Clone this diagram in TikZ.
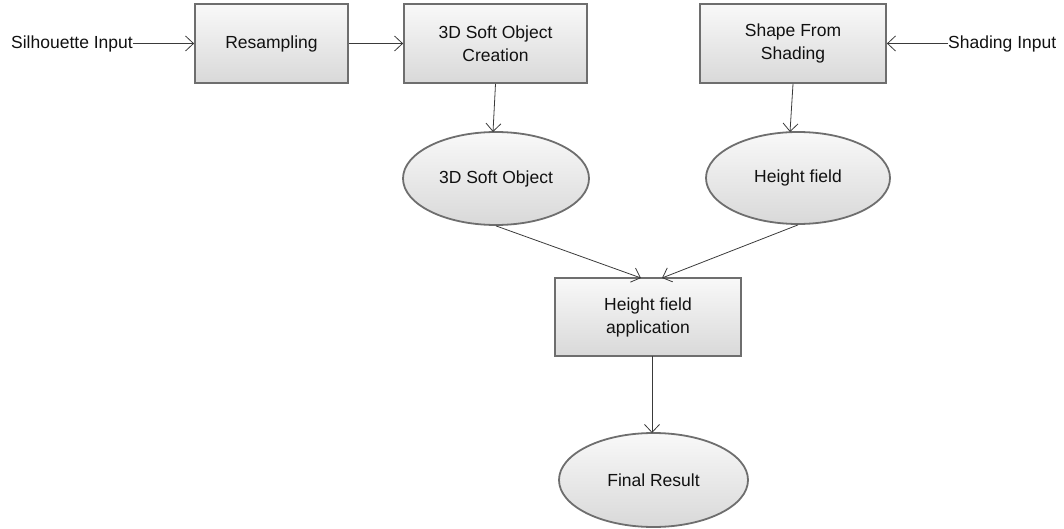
\documentclass[tikz,border=0pt]{standalone}
\usepackage{fontspec}
\setmainfont{Liberation Sans}
\usetikzlibrary{shapes.geometric,arrows.meta}
\definecolor{bordergray}{HTML}{6E6E6E}
\definecolor{linegray}{HTML}{3A3A3A}
\definecolor{txt}{HTML}{111111}
\begin{document}
\begin{tikzpicture}[x=1pt,y=-1pt,
  every node/.style={font=\fontsize{17.5}{23}\selectfont, text=txt},
  procbox/.style={rectangle, draw=bordergray, line width=1.8pt, top color=gray!5, bottom color=gray!30, align=center, inner sep=0pt},
  databox/.style={ellipse, draw=bordergray, line width=1.8pt, top color=gray!5, bottom color=gray!30, align=center, inner sep=0pt},
  lbl/.style={inner sep=0pt},
  conn/.style={draw=linegray, line width=0.8pt, -{Straight Barb[length=8pt,width=15pt,line width=0.8pt]}}
]
\useasboundingbox (0,0) rectangle (1064,529);
\node[procbox, minimum width=153pt, minimum height=79pt] (res) at (271.5,43.5) {Resampling};
\node[procbox, minimum width=183pt, minimum height=79pt] (create) at (495.5,43.5) {3D Soft Object\\Creation};
\node[procbox, minimum width=186pt, minimum height=79pt] (sfs) at (793,43.5) {Shape From\\Shading};
\node[procbox, minimum width=186pt, minimum height=78pt] (app) at (648,317) {Height field\\application};
\node[databox, minimum width=186pt, minimum height=93pt] (soft) at (496,178.5) {3D Soft Object};
\node[databox, minimum width=184pt, minimum height=92pt] (hf) at (798,178) {Height field};
\node[databox, minimum width=189pt, minimum height=94pt] (final) at (653.5,480) {Final Result};
\node[lbl, anchor=east] (sil) at (133,43.5) {Silhouette Input};
\node[lbl, anchor=west] (shin) at (948,43.5) {Shading Input};
\coordinate (app1) at (641,278);
\coordinate (app2) at (662,278);
\coordinate (hftop) at (790,132);
\coordinate (softtop) at (493,132);
\coordinate (appbot) at (652,356);
\coordinate (fintop) at (652,433);
\draw[conn] (sil.east) -- (res.west);
\draw[conn] (res.east) -- (create.west);
\draw[conn] (shin.west) -- (sfs.east);
\draw[conn] (create.south) -- (softtop);
\draw[conn] (sfs.south) -- (hftop);
\draw[conn] (soft.south) -- (app1);
\draw[conn] (hf.south) -- (app2);
\draw[conn] (appbot) -- (fintop);
\end{tikzpicture}
\end{document}
